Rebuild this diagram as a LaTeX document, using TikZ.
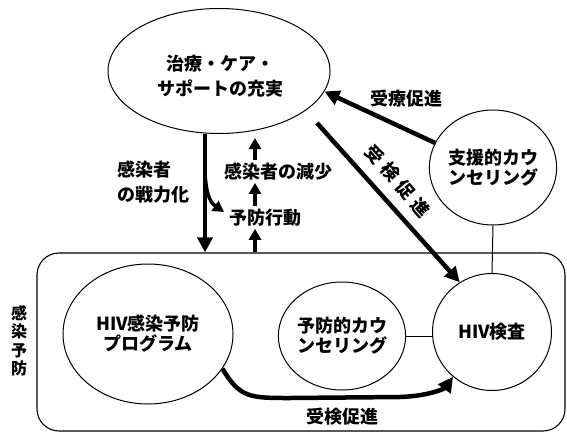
\documentclass[tikz,border=0pt]{standalone}
\usepackage{fontspec}
\setmainfont{Noto Sans CJK JP}
\usetikzlibrary{shapes.geometric,arrows.meta}
\begin{document}
\begin{tikzpicture}[x=1pt,y=-1pt,
  txt/.style={font=\bfseries\fontsize{18}{20}\selectfont, inner sep=0pt, align=center},
  shp/.style={draw, ellipse, line width=1pt, inner sep=0pt, txt},
  bigarrow/.style={line width=4.5pt, -{Triangle[length=15pt,width=15pt]}},
  midarrow/.style={line width=3.5pt, -{Triangle[length=11pt,width=12pt]}},
  thinline/.style={line width=1pt},
]
\useasboundingbox (0,0) rectangle (567,434);

% shapes
\node[shp, minimum width=222pt, minimum height=125pt] (care) at (219,71) {};
\node[txt, font=\bfseries\fontsize{18}{25}\selectfont] (caretext) at (220,76) {治療・ケア・\\サポートの充実};
\node[draw, line width=1.1pt, rounded corners=22pt, minimum width=528pt,
      minimum height=178pt, inner sep=0pt] (prev) at (301,342) {};
\node[shp, minimum width=170pt, minimum height=140pt] (prog) at (148,334) {HIV感染予防\\プログラム};
\node[shp, minimum width=120pt, minimum height=108pt] (couns) at (342,336) {予防的カウ\\ンセリング};
\node[shp, minimum width=119pt, minimum height=117pt] (hiv) at (492,332) {HIV検査};
\node[shp, minimum width=120pt, minimum height=115pt] (supp) at (493,167.5) {支援的カウ\\ンセリング};

% labels
\node[txt, font=\bfseries\fontsize{16}{18.5}\selectfont] (infprev) at (19,341) {感\\染\\予\\防};
\node[txt, align=left, anchor=west, font=\bfseries\fontsize{18}{25}\selectfont] (empower) at (117,182) {感染者\\の戦力化};
\node[txt] (act) at (265,218) {予防行動};
\node[txt] (red) at (278,172) {感染者の減少};
\node[txt] (treatprom) at (406,99) {受療促進};
\node[txt, rotate=-49] (testpromA) at (398,181) {\addfontfeature{LetterSpace=30}受検促進};
\node[txt] (testpromB) at (342,417) {受検促進};

% helper coordinates
\coordinate (dx) at (205,0);
\coordinate (ux) at (255,0);
\coordinate (dstart) at (317,123);
\coordinate (bstart) at (205,172);
\coordinate (btip) at (224,212);

% connectors
\draw[bigarrow] (supp.157) -- (care.-11);
\draw[bigarrow] (dstart) -- (hiv.123);
\draw[bigarrow] (care.south -| dx) -- (prev.north -| dx);
\draw[midarrow] (bstart) .. controls (206,196) and (211,203) .. (btip);
\draw[midarrow, shorten >=2pt] (prev.north -| ux) -- (act.south -| ux);
\draw[midarrow, shorten <=3pt, shorten >=2pt] (act.north -| ux) -- (red.south -| ux);
\draw[midarrow, shorten <=3pt, shorten >=4pt] (red.north -| ux) -- (care.south -| ux);
\draw[bigarrow] (prog.-25) .. controls (240,398) and (250,398) .. (290,398)
   -- (400,397) .. controls (430,396) and (445,388) .. (hiv.-131);
\draw[thinline] (supp.south) -- (hiv.north);
\draw[thinline] (couns.east) -- (couns.east -| hiv.west);
\end{tikzpicture}
\end{document}
